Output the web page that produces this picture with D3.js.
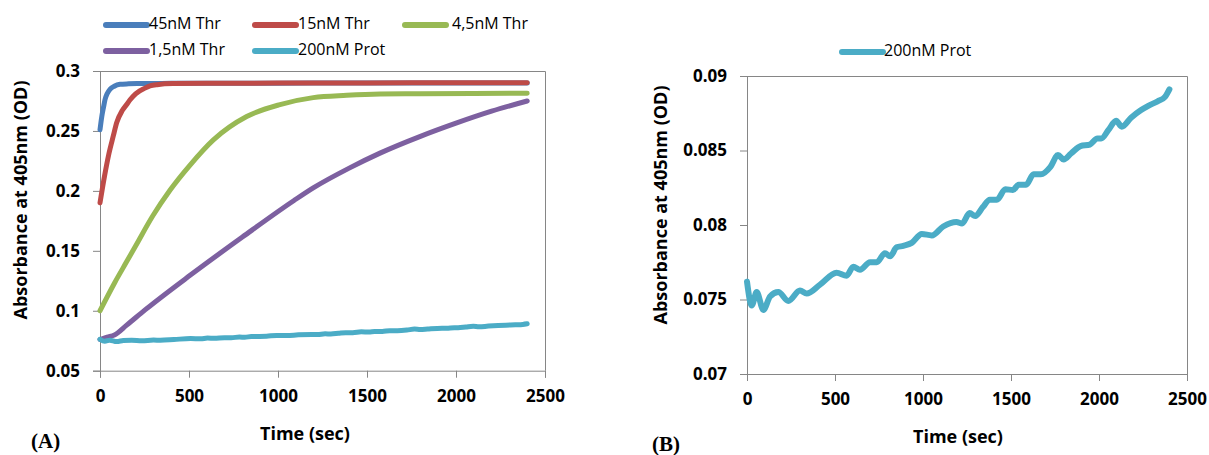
<!DOCTYPE html>
<html><head><meta charset="utf-8">
<script src="https://cdn.jsdelivr.net/npm/d3@7"></script>
<style>
body{margin:0;background:#fff;}
svg{display:block;}
text{font-family:"Open Sans","Liberation Sans",sans-serif;fill:#000;}
</style></head>
<body>
<svg id="c" width="1209" height="455"></svg>
<script>
// ---- data ----
const seriesNames = ["45nM Thr","15nM Thr","4,5nM Thr","1,5nM Thr","200nM Prot"];
const seriesColors = ["#4A7EBB","#BE4B48","#98B954","#7D60A0","#4BACC6"];

const t45 = [0,10,20,28,40,56,80,112,160,220,300,400,800,1200,1600,2000,2400];
const v45 = [0.251,0.262,0.270,0.276,0.281,0.2847,0.2873,0.2889,0.2893,0.2895,0.2896,0.2897,0.2898,0.2899,0.290,0.290,0.290];

const t15 = [0,25,50,75,94,125,150,169,200,250,281,320,410,600,1000,1500,2000,2400];
const v15 = [0.190,0.212,0.231,0.246,0.257,0.267,0.272,0.276,0.281,0.2855,0.2875,0.2886,0.2895,0.2897,0.2899,0.290,0.2902,0.2903];

const t4_5 = [0,81,150,200,296,393,506,637,824,1011,1198,1386,1573,1800,2100,2400];
const v4_5 = [0.100,0.123,0.141,0.154,0.179,0.2005,0.2215,0.2425,0.262,0.272,0.2778,0.2797,0.2808,0.2811,0.2813,0.2814];

const t1_5 = [0,40,81,150,253,510,800,1090,1198,1400,1573,1800,2000,2200,2400];
const v1_5 = [0.076,0.078,0.0798,0.088,0.1007,0.130,0.1615,0.192,0.2025,0.219,0.2315,0.2455,0.2565,0.2665,0.275];

const tProt = [0,27,55,93,131,178,235,301,339,415,509,566,604,642,699,737,784,813,850,888,936,993,1050,1115,1190,1222,1265,1297,1340,1380,1420,1468,1511,1543,1586,1628,1670,1724,1767,1799,1841,1895,1948,1991,2012,2055,2097,2129,2182,2237,2280,2333,2375,2400];
const vProt = [0.0762,0.0746,0.0755,0.0743,0.0752,0.0755,0.0749,0.0756,0.0754,0.0760,0.0768,0.0766,0.0772,0.0770,0.0775,0.0775,0.0781,0.0779,0.0785,0.0786,0.0788,0.0794,0.0793,0.0799,0.0802,0.0801,0.0808,0.0806,0.0812,0.0817,0.0817,0.0824,0.08235,0.0827,0.0827,0.0834,0.0834,0.0839,0.0847,0.0844,0.0848,0.0853,0.0854,0.0858,0.0858,0.0864,0.0870,0.0866,0.0872,0.0877,0.0880,0.0883,0.0886,0.0891];

const xTicks = [0,500,1000,1500,2000,2500];
const yTicksA = [0.05,0.1,0.15,0.2,0.25,0.3];
const yTicksB = [0.07,0.075,0.08,0.085,0.09];
const xTitle = "Time (sec)";
const yTitle = "Absorbance at 405nm (OD)";

const seriesA = [[t45,v45],[t15,v15],[t4_5,v4_5],[t1_5,v1_5],[tProt,vProt]]
  .map((p,i)=>({name:seriesNames[i],color:seriesColors[i],pts:p[0].map((t,j)=>[t,p[1][j]])}));

// ---- drawing ----
const svg = d3.select("#c");
const axisCol = "#868686";
const fmt = d => String(+d.toFixed(3));

function panel(xr, yr, ydom, yticks, series, lw, ytitleY, ytitleX, xtitleX, letter, letterX) {
  const x = d3.scaleLinear().domain([0,2500]).range(xr);
  const y = d3.scaleLinear().domain(ydom).range(yr);
  const g = svg.append("g");
  g.append("path").attr("d", `M${xr[0]},${yr[1]+0.5}H${xr[1]+0.5}V${yr[0]}`)
    .attr("fill","none").attr("stroke",axisCol).attr("stroke-width",1);
  const xa = g.append("g").attr("transform",`translate(0,${yr[0]})`)
    .call(d3.axisBottom(x).tickValues(xTicks).tickSize(7).tickPadding(12).tickFormat(d3.format("d")));
  const ya = g.append("g").attr("transform",`translate(${xr[0]},0)`)
    .call(d3.axisLeft(y).tickValues(yticks).tickSize(7).tickPadding(13).tickFormat(fmt));
  [xa,ya].forEach(a=>{
    a.select(".domain").attr("stroke",axisCol);
    a.selectAll(".tick line").attr("stroke",axisCol);
    a.selectAll("text").attr("font-size",17).attr("font-weight","bold")
      .style("font-family","'Open Sans',sans-serif").attr("fill","#000");
  });
  const line = d3.line().x(d=>x(d[0])).y(d=>y(d[1])).curve(d3.curveMonotoneX);
  series.forEach(s=>{
    g.append("path").datum(s.pts).attr("d",line).attr("fill","none")
      .attr("stroke",s.color).attr("stroke-width",lw)
      .attr("stroke-linejoin","round").attr("stroke-linecap","round");
  });
  g.append("text").attr("x",xtitleX).attr("y",yr[0]+64).attr("text-anchor","middle")
    .attr("dominant-baseline","middle").attr("font-size",18).attr("font-weight","bold").text(xTitle);
  g.append("text").attr("transform",`translate(${ytitleX},${ytitleY}) rotate(-90)`)
    .attr("text-anchor","middle").attr("dominant-baseline","middle")
    .attr("font-size",18).attr("font-weight","bold").text(yTitle);
  g.append("text").attr("x",letterX).attr("y",yr[0]+72).attr("dominant-baseline","middle")
    .style("font-family","'Liberation Serif','Times New Roman',serif")
    .attr("font-size",21).attr("font-weight","bold").text(letter);
}

panel([100,545],[370.7,71],[0.05,0.3],yTicksA,seriesA,5,200,22,305,"(A)",31);
panel([747,1187],[374,76],[0.07,0.09],yTicksB,[seriesA[4]],6,205,662,958,"(B)",652);

// legends
const legA = [
  {i:0,x:106,y:25},{i:1,x:255,y:25},{i:2,x:405,y:25},
  {i:3,x:106,y:51},{i:4,x:255,y:51}
];
function legItem(lx, ly, i, len, gap) {
  svg.append("line").attr("x1",lx).attr("x2",lx+len).attr("y1",ly).attr("y2",ly)
    .attr("stroke",seriesColors[i]).attr("stroke-width",6).attr("stroke-linecap","round");
  svg.append("text").attr("x",lx+len+gap).attr("y",ly).attr("dominant-baseline","middle")
    .attr("font-size",16).text(seriesNames[i]);
}
legA.forEach(d=>legItem(d.x,d.y,d.i,41,d.i===2?6:2));
legItem(842,52,4,41,1);
</script>
</body></html>
